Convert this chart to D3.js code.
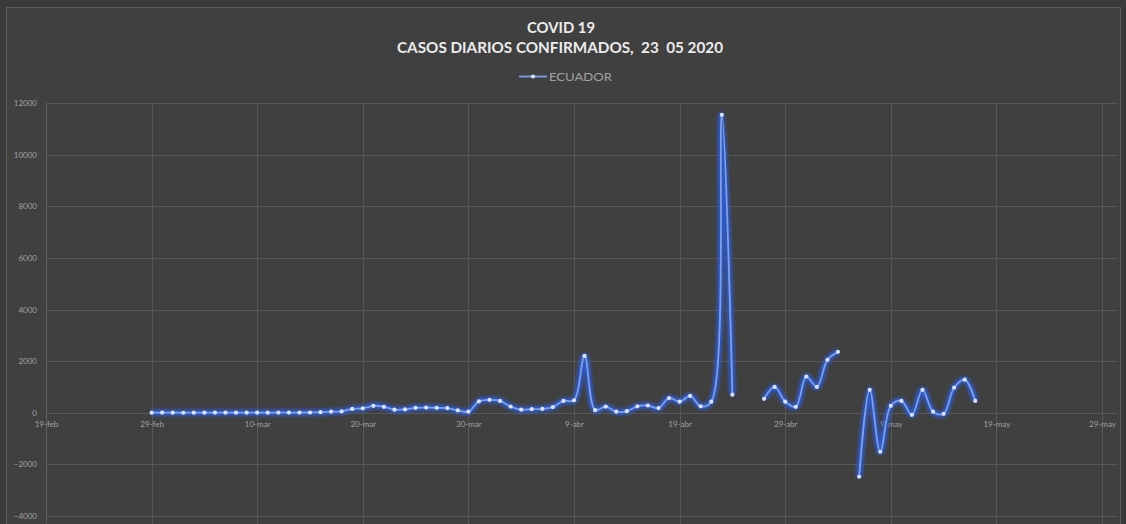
<!DOCTYPE html>
<html>
<head>
<meta charset="utf-8">
<script src="https://cdn.jsdelivr.net/npm/d3@7"></script>
<style>
  html, body { margin: 0; padding: 0; background: #3a3a3a; overflow: hidden; }
  svg { display: block; }
  .title-text { white-space: pre; }
</style>
</head>
<body>
<svg id="chart" width="1126" height="524"></svg>
<script>
// Daily confirmed COVID-19 cases, Ecuador, one value per day starting 29 Feb 2020.
// null = no report for that day (gap in the line).
const startDate = "2020-02-29";
const dailyCases = [
  1, 5, 1, 0, 3, 2, 1, 2, 1, 2, 2, 3, 6, 5, 5, 9, 21, 40, 53,
  150, 170, 270, 230, 120, 130, 190, 200, 190, 180, 90, 40,
  440, 500, 460, 240, 120, 140, 150, 220, 460, 480,
  2200, 100, 240, 40, 60, 250, 280, 180, 570, 430, 650, 250, 430,
  11540, 700, null, null,
  540, 1000, 430, 230, 1400, 1000, 2050, 2360, null,
  -2480, 890, -1510, 270, 460, -80, 890, 40, -40, 970, 1280, 460
];
const seriesName = "ECUADOR";
const titleLines = ["COVID 19", "CASOS DIARIOS CONFIRMADOS,\u00a0\u00a023\u00a0\u00a005 2020"];
const xTickDates = ["2020-02-19", "2020-02-29", "2020-03-10", "2020-03-20", "2020-03-30",
                    "2020-04-09", "2020-04-19", "2020-04-29", "2020-05-09", "2020-05-19", "2020-05-29"];
const yTickValues = [-4000, -2000, 0, 2000, 4000, 6000, 8000, 10000, 12000];

const parse = d3.utcParse("%Y-%m-%d");
const es = d3.timeFormatLocale({
  dateTime: "%x %X", date: "%d/%m/%Y", time: "%H:%M:%S", periods: ["AM", "PM"],
  days: ["domingo","lunes","martes","miércoles","jueves","viernes","sábado"],
  shortDays: ["dom","lun","mar","mié","jue","vie","sáb"],
  months: ["enero","febrero","marzo","abril","mayo","junio","julio","agosto","septiembre","octubre","noviembre","diciembre"],
  shortMonths: ["ene","feb","mar","abr","may","jun","jul","ago","sep","oct","nov","dic"]
});
const fmtTick = es.utcFormat("%-d-%b");

const day0 = parse(startDate);
const data = dailyCases.map((v, i) => ({ date: d3.utcDay.offset(day0, i), value: v }));
const tickDates = xTickDates.map(parse);

const plot = { left: 46, right: 1118, top: 103, bottom: 516 };
const font = "Lato, 'Open Sans', sans-serif";

const svg = d3.select("#chart");

// chart frame
svg.append("rect").attr("x", 6.5).attr("y", 7.5).attr("width", 1114).attr("height", 540)
  .attr("fill", "#404040").attr("stroke", "#5c5c5c");

const x = d3.scaleUtc()
  .domain([tickDates[0], tickDates[tickDates.length - 1]])
  .range([plot.left, 1102]);
const y = d3.scaleLinear().domain([-4000, 12000]).range([plot.bottom, plot.top]);

// horizontal gridlines
svg.append("g").selectAll("line").data(yTickValues).join("line")
  .attr("x1", plot.left).attr("x2", plot.right)
  .attr("y1", d => Math.round(y(d)) + 0.5).attr("y2", d => Math.round(y(d)) + 0.5)
  .attr("stroke", "#575757").attr("stroke-width", 1);

// vertical gridlines
svg.append("g").selectAll("line").data(tickDates).join("line")
  .attr("x1", d => Math.round(x(d)) + 0.5).attr("x2", d => Math.round(x(d)) + 0.5)
  .attr("y1", plot.top).attr("y2", plot.bottom + 8)
  .attr("stroke", "#575757").attr("stroke-width", 1);

// y axis
const yAxis = d3.axisLeft(y).tickValues(yTickValues).tickSize(0).tickPadding(9)
  .tickFormat(d3.format("d"));
const gy = svg.append("g").attr("transform", `translate(${plot.left},0)`).call(yAxis);
gy.select(".domain").attr("stroke", "#606060");
gy.selectAll("text").attr("fill", "#a0a0a0").style("font-family", font).style("font-size", "8px");

// x axis, crossing at zero
const xAxis = d3.axisBottom(x).tickValues(tickDates).tickSize(0).tickPadding(9).tickFormat(fmtTick);
const gx = svg.append("g").attr("transform", `translate(0,${y(0)})`).call(xAxis);
gx.select(".domain").remove();
gx.selectAll("text").attr("fill", "#a0a0a0").style("font-family", font).style("font-size", "8px");

// line with glow
const defs = svg.append("defs");
const glow = defs.append("filter").attr("id", "glow").attr("x", "-20%").attr("y", "-20%")
  .attr("width", "140%").attr("height", "140%");
glow.append("feGaussianBlur").attr("stdDeviation", 1.8);

const line = d3.line()
  .defined(d => d.value !== null)
  .x(d => x(d.date)).y(d => y(d.value))
  .curve(d3.curveCatmullRom.alpha(0.5));

svg.append("path").datum(data).attr("d", line)
  .attr("fill", "none").attr("stroke", "#2f5bd0").attr("stroke-width", 6.5)
  .attr("stroke-opacity", 0.9).attr("filter", "url(#glow)");
svg.append("path").datum(data).attr("d", line)
  .attr("fill", "none").attr("stroke", "#7d9fe8").attr("stroke-width", 1.8);

svg.append("g").selectAll("circle").data(data.filter(d => d.value !== null)).join("circle")
  .attr("cx", d => x(d.date)).attr("cy", d => y(d.value)).attr("r", 2.1)
  .attr("fill", "#d6e2fa");

// title
const title = svg.append("g").attr("fill", "#ececec")
  .style("font-family", font).style("font-weight", "bold")
  .attr("text-anchor", "middle");
title.append("text").attr("class", "title-text").attr("x", 561).attr("y", 33).style("font-size", "15px")
  .attr("textLength", 68).attr("lengthAdjust", "spacingAndGlyphs").text(titleLines[0]);
title.append("text").attr("class", "title-text").attr("x", 560).attr("y", 53).style("font-size", "14.5px")
  .attr("textLength", 326).attr("lengthAdjust", "spacingAndGlyphs").text(titleLines[1]);

// legend
const lg = svg.append("g");
lg.append("line").attr("x1", 519).attr("x2", 547).attr("y1", 76.5).attr("y2", 76.5)
  .attr("stroke", "#2f5bd0").attr("stroke-width", 5).attr("stroke-opacity", 0.9).attr("filter", "url(#glow)");
lg.append("line").attr("x1", 519).attr("x2", 547).attr("y1", 76.5).attr("y2", 76.5)
  .attr("stroke", "#7d9fe8").attr("stroke-width", 1.8);
lg.append("circle").attr("cx", 533).attr("cy", 76.5).attr("r", 2.1).attr("fill", "#d6e2fa");
lg.append("text").attr("x", 549).attr("y", 81).attr("fill", "#a0a0a0")
  .style("font-family", font).style("font-size", "11px")
  .attr("textLength", 63).attr("lengthAdjust", "spacingAndGlyphs").text(seriesName);
</script>
</body>
</html>
